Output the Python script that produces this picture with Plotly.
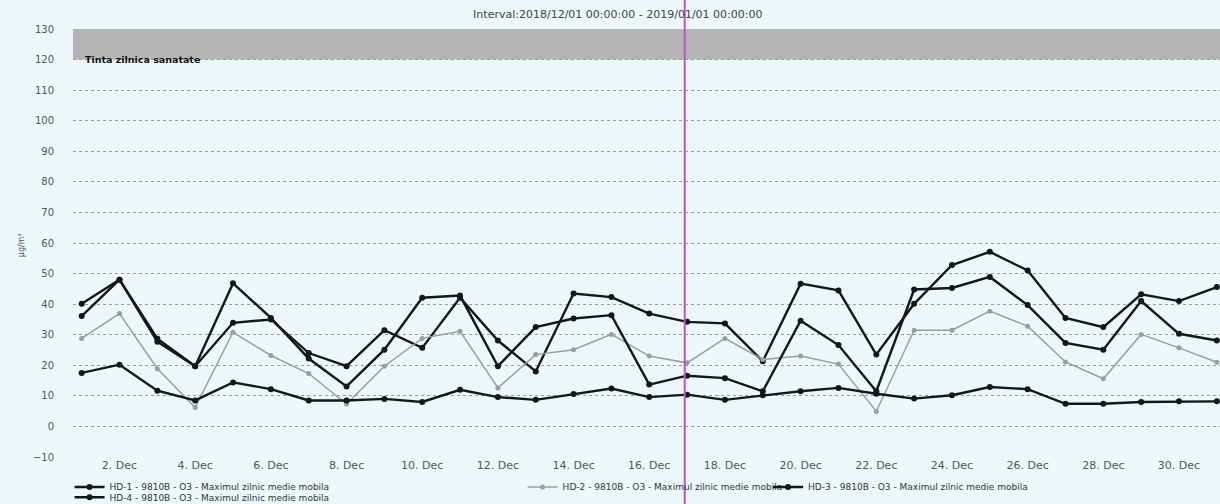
import plotly.graph_objects as go
import pandas as pd

# ---- data ----
dates = pd.date_range("2018-12-01", "2018-12-31", freq="D")

hd1 = [40.1, 48.0, 28.7, 19.7, 33.9, 35.0, 24.0, 19.7, 31.5, 25.7, 42.1, 28.1, 18.0, 43.5, 42.3, 36.9,
       34.2, 33.7, 21.3, 46.7, 44.5, 23.5, 40.1, 52.8, 57.1, 51.0, 35.5, 32.5, 43.2, 41.0, 45.6]
hd2 = [28.8, 36.9, 18.9, 6.2, 30.8, 23.2, 17.3, 7.3, 19.7, 28.8, 31.1, 12.6, 23.5, 25.1, 30.1, 23.0,
       20.8, 28.8, 21.9, 23.0, 20.4, 4.9, 31.5, 31.5, 37.7, 32.8, 21.1, 15.6, 30.1, 25.7, 21.0]
hd3 = [36.1, 48.0, 27.7, 19.7, 46.8, 35.5, 22.2, 13.1, 25.1, 42.1, 42.8, 19.7, 32.5, 35.3, 36.4, 13.7,
       16.6, 15.8, 11.5, 34.6, 26.6, 11.5, 44.8, 45.3, 48.9, 39.7, 27.3, 25.1, 41.0, 30.3, 28.1]
hd4 = [17.5, 20.2, 11.7, 8.5, 14.4, 12.2, 8.5, 8.5, 9.0, 8.0, 12.0, 9.6, 8.7, 10.6, 12.4, 9.6,
       10.4, 8.7, 10.2, 11.5, 12.6, 10.7, 9.1, 10.2, 12.9, 12.2, 7.4, 7.4, 8.0, 8.2, 8.2]

series_names = [
    "HD-1 - 9810B - O3 - Maximul zilnic medie mobila",
    "HD-2 - 9810B - O3 - Maximul zilnic medie mobila",
    "HD-3 - 9810B - O3 - Maximul zilnic medie mobila",
    "HD-4 - 9810B - O3 - Maximul zilnic medie mobila",
]

x_tick_dates = pd.date_range("2018-12-02", "2018-12-30", freq="2D")
x_tick_labels = ["2. Dec", "4. Dec", "6. Dec", "8. Dec", "10. Dec", "12. Dec", "14. Dec", "16. Dec",
                 "18. Dec", "20. Dec", "22. Dec", "24. Dec", "26. Dec", "28. Dec", "30. Dec"]
y_ticks = [-10, 0, 10, 20, 30, 40, 50, 60, 70, 80, 90, 100, 110, 120, 130]

target_low, target_high = 120, 130
target_label = "Tinta zilnica sanatate"
title_text = "Interval:2018/12/01 00:00:00 - 2019/01/01 00:00:00"
y_unit = "µg/m³"
cursor_date = "2018-12-16 22:30"

# ---- figure ----
FONT = "DejaVu Sans"
fig = go.Figure()

styles = [
    dict(color="#161616", width=2.4, msize=6, legend="legend"),
    dict(color="#9c9c9c", width=1.5, msize=5, legend="legend2"),
    dict(color="#161616", width=2.4, msize=6, legend="legend3"),
    dict(color="#161616", width=2.4, msize=6, legend="legend4"),
]
for vals, name, st in zip([hd1, hd2, hd3, hd4], series_names, styles):
    fig.add_trace(go.Scatter(
        x=dates, y=vals, name=name, mode="lines+markers",
        line=dict(color=st["color"], width=st["width"]),
        marker=dict(color=st["color"], size=st["msize"], symbol="circle"),
        legend=st["legend"], showlegend=True,
    ))

# target band
fig.add_shape(type="rect", xref="paper", yref="y", x0=0, x1=1, y0=target_low, y1=target_high,
              fillcolor="#b4b4b4", line=dict(width=0), layer="below")
fig.add_annotation(text="<b>" + target_label + "</b>", xref="paper", yref="y",
                   x=0.009, y=target_low, xanchor="left", yanchor="middle", showarrow=False,
                   font=dict(family=FONT, size=9.5, color="#111"))

# cursor line
fig.add_shape(type="line", xref="x", yref="paper", x0=cursor_date, x1=cursor_date, y0=-0.2, y1=1.2,
              line=dict(color="#c050d0", width=2))

# y unit
fig.add_annotation(text=y_unit, xref="paper", yref="paper", x=-0.051, y=0.495, textangle=-90,
                   showarrow=False, font=dict(family=FONT, size=8, color="#555"))

leg_common = dict(orientation="h", xanchor="left", yanchor="middle", bgcolor="rgba(0,0,0,0)",
                  font=dict(family=FONT, size=9, color="#333"), itemwidth=30)

fig.update_layout(
    width=1220, height=504,
    margin=dict(l=73, r=0, t=29, b=47, autoexpand=False),
    paper_bgcolor="#edf7fa", plot_bgcolor="#edf7fa",
    title=dict(text=title_text, x=0.475, xref="paper", y=0.972, yanchor="middle", xanchor="center",
               font=dict(family=FONT, size=11, color="#444")),
    xaxis=dict(
        type="date", range=["2018-11-30 18:30", "2018-12-31 02:00"],
        tickvals=list(x_tick_dates), ticktext=x_tick_labels,
        showgrid=False, showline=False, zeroline=False,
        tickfont=dict(family=FONT, size=11, color="#555"),
    ),
    yaxis=dict(
        range=[-10, 130], tickvals=y_ticks,
        showgrid=True, gridcolor="#9a9a9a", griddash="dot", gridwidth=1,
        zeroline=False, showline=False,
        ticks="outside", ticklen=16, tickcolor="rgba(0,0,0,0)",
        tickfont=dict(family=FONT, size=10, color="#555"),
    ),
    legend=dict(x=-0.003, y=-0.070, **leg_common),
    legend2=dict(x=0.392, y=-0.070, **leg_common),
    legend3=dict(x=0.606, y=-0.070, **leg_common),
    legend4=dict(x=-0.003, y=-0.094, **leg_common),
)

fig.write_html("out.html", config={"displayModeBar": False},
               post_script="document.body.style.margin='0';document.body.style.overflow='hidden';")
